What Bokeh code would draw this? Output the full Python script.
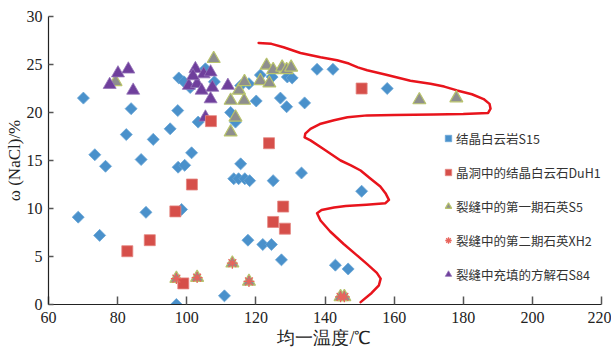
import numpy as np
from bokeh.plotting import figure
from bokeh.models import Range1d, FixedTicker, Legend, LegendItem
from bokeh.embed import file_html
from bokeh.resources import INLINE

# 结晶白云岩S15
s15_x = [70.1, 73.4, 76.5, 68.6, 74.8, 82.5, 83.9, 86.8, 88.2, 90.3, 95.2, 97.4, 97.7, 97.5,
         99.4, 101.4, 98.5, 97.0, 103.3, 99.2, 101.0, 105.4, 108.0, 110.9, 112.7, 114.1,
         113.6, 115.0, 115.6, 116.8, 118.2, 117.7, 115.6, 118.0, 120.1, 121.3, 122.0, 124.5,
         124.7, 125.0, 127.1, 127.4, 128.9, 129.1, 130.5, 133.2, 134.1, 137.7, 142.3, 143.0,
         146.7, 150.6, 158.0]
s15_y = [21.5, 15.6, 14.4, 9.1, 7.2, 17.7, 20.4, 15.1, 9.6, 17.2, 18.3, 20.2, 23.6, 14.3,
         14.5, 15.8, 9.9, 0.0, 19.0, 23.2, 22.6, 24.55, 23.2, 0.9, 20.0, 19.0,
         13.1, 13.1, 14.65, 13.1, 12.9, 6.7, 22.8, 23.0, 21.2, 23.9, 6.25, 6.25,
         23.7, 12.9, 21.5, 4.65, 20.6, 23.7, 23.6, 13.7, 21.0, 24.5, 24.5, 4.1,
         3.7, 11.8, 22.5]

# 晶洞中的结晶白云石DuH1
duh1_x = [82.8, 89.3, 96.7, 99.0, 101.5, 107.0, 123.8, 125.0, 127.9, 128.4, 150.6]
duh1_y = [5.55, 6.7, 9.7, 2.2, 12.5, 19.1, 16.8, 8.6, 10.2, 7.9, 22.5]

# 裂缝中的第一期石英S5
s5_x = [79.4, 107.8, 112.7, 112.7, 114.1, 115.1, 116.6, 116.7, 121.3, 123.1, 123.9, 125.0,
        127.6, 128.9, 130.2, 167.3, 178.0, 97.0, 103.0, 113.2, 118.0, 144.5, 145.6]
s5_y = [23.2, 25.6, 21.25, 17.95, 19.5, 22.3, 21.25, 23.2, 23.3, 24.9, 23.05, 24.45,
        24.7, 24.45, 24.7, 21.3, 21.5, 2.7, 2.8, 4.3, 2.4, 0.8, 0.8]

# 裂缝中的第二期石英XH2
xh2_x = [97.0, 103.0, 113.2, 118.0, 144.5, 145.6]
xh2_y = [2.7, 2.8, 4.3, 2.4, 0.8, 0.8]

# 裂缝中充填的方解石S84
s84_x = [77.7, 80.1, 83.1, 84.5, 100.6, 102.5, 103.0, 104.3, 104.9, 106.9, 107.4, 106.9,
         105.4, 111.9, 101.8]
s84_y = [22.9, 24.1, 24.5, 22.3, 22.8, 24.55, 23.0, 22.3, 24.0, 24.2, 22.6, 21.4,
         19.5, 22.8, 23.8]

# hand-drawn red outline
curve_x = [120.8, 124.5, 128.0, 132.9, 138.7, 143.5, 146.9, 149.5, 152.2, 158.0, 164.7, 170.5,
           174.5, 178.2, 182.5, 185.9, 187.6, 187.9, 187.2, 180.0, 171.5, 160.0, 152.2, 146.5,
           142.6, 138.5, 135.8, 134.3, 134.1, 135.8, 140.0, 144.5, 147.5, 150.3, 153.2, 156.0,
           157.5, 158.5, 157.5, 152.0, 146.0, 142.6, 139.0, 137.7, 138.7, 141.5, 145.4, 149.0,
           152.2, 155.0, 156.1, 155.6, 153.5, 150.3]
curve_y = [27.25, 27.15, 26.8, 26.2, 25.75, 25.45, 25.1, 24.7, 24.4, 23.9, 23.3, 23.0,
           22.7, 22.3, 21.9, 21.4, 20.9, 20.4, 19.95, 19.85, 19.8, 19.75, 19.7, 19.5,
           19.2, 18.8, 18.3, 17.8, 17.4, 17.1, 16.1, 15.0, 14.5, 13.96, 13.1, 12.3,
           11.6, 10.9, 10.55, 10.4, 10.25, 10.1, 9.85, 9.5, 8.75, 7.6, 6.3, 5.2,
           4.2, 3.3, 2.7, 2.0, 1.2, 0.25]

x_ticks = [60, 80, 100, 120, 140, 160, 180, 200, 220]
y_ticks = [0, 5, 10, 15, 20, 25, 30]

p = figure(width=611, height=353, output_backend="svg", toolbar_location=None,
           x_range=Range1d(60, 220), y_range=Range1d(0, 30),
           min_border_left=48, min_border_right=10, min_border_top=16, min_border_bottom=49)

p.grid.visible = False
p.outline_line_color = None
p.background_fill_color = "white"

serif = "Liberation Serif"
for ax in (p.xaxis[0], p.yaxis[0]):
    ax.axis_line_color = "#222222"
    ax.axis_line_width = 1.2
    ax.major_tick_out = 0
    ax.minor_tick_line_color = None
    ax.major_tick_line_color = "#555555"
    ax.major_tick_line_width = 1.5
    ax.major_label_text_font = serif
    ax.major_label_text_font_size = "16px"
    ax.major_label_text_color = "#222222"
    ax.axis_label_text_font = serif
    ax.axis_label_text_font_style = "normal"
    ax.axis_label_text_color = "#222222"

p.xaxis.axis_label_text_font_size = "18px"
p.yaxis.axis_label_text_font_size = "17px"
p.xaxis.ticker = FixedTicker(ticks=x_ticks)
p.yaxis.ticker = FixedTicker(ticks=y_ticks)
p.xaxis.major_tick_in = 8
p.yaxis.major_tick_in = 5
p.xaxis.major_label_standoff = 7
p.yaxis.major_label_standoff = 6
p.xaxis.axis_label_standoff = 2
p.yaxis.axis_label_standoff = 0
p.xaxis.axis_label = "均一温度/℃"
p.yaxis.axis_label = "ω (NaCl)/%"

p.line(curve_x, curve_y, line_color="#e8141c", line_width=2.5, line_join="round", line_cap="round")

r_s15 = p.scatter(s15_x, s15_y, marker="square", angle=np.pi / 4, size=8.5,
                  fill_color="#4a91cb", line_color="#6aa6d6", line_width=0.8)
r_s5 = p.scatter(s5_x, s5_y, marker="triangle", size=13,
                 fill_color="#8e8e8e", line_color="#b9c46c", line_width=1.2)
r_s84 = p.scatter(s84_x, s84_y, marker="triangle", size=13,
                  fill_color="#6f3f9c", line_color="#9474b8", line_width=0.8)
r_duh1 = p.scatter(duh1_x, duh1_y, marker="square", size=11,
                   fill_color="#d64f4a", line_color="#e58580", line_width=0.8)
r_xh2 = p.scatter(xh2_x, xh2_y, marker="asterisk", size=11,
                  line_color="#e8645c", line_width=1.3)

legend = Legend(items=[
    LegendItem(label="结晶白云岩S15", renderers=[r_s15]),
    LegendItem(label="晶洞中的结晶白云石DuH1", renderers=[r_duh1]),
    LegendItem(label="裂缝中的第一期石英S5", renderers=[r_s5]),
    LegendItem(label="裂缝中的第二期石英XH2", renderers=[r_xh2]),
    LegendItem(label="裂缝中充填的方解石S84", renderers=[r_s84]),
], location=(392, 20))
legend.label_text_font = "Noto Sans CJK SC"
legend.label_text_font_size = "12.5px"
legend.label_text_color = "#333333"
legend.label_height = 20
legend.glyph_height = 20
legend.glyph_width = 16
legend.spacing = 14
legend.padding = 0
legend.margin = 0
legend.label_standoff = 0
legend.border_line_color = None
legend.background_fill_color = "white"
legend.background_fill_alpha = 0.0
p.add_layout(legend, "center")

open("out.html", "w").write(file_html(p, INLINE))
